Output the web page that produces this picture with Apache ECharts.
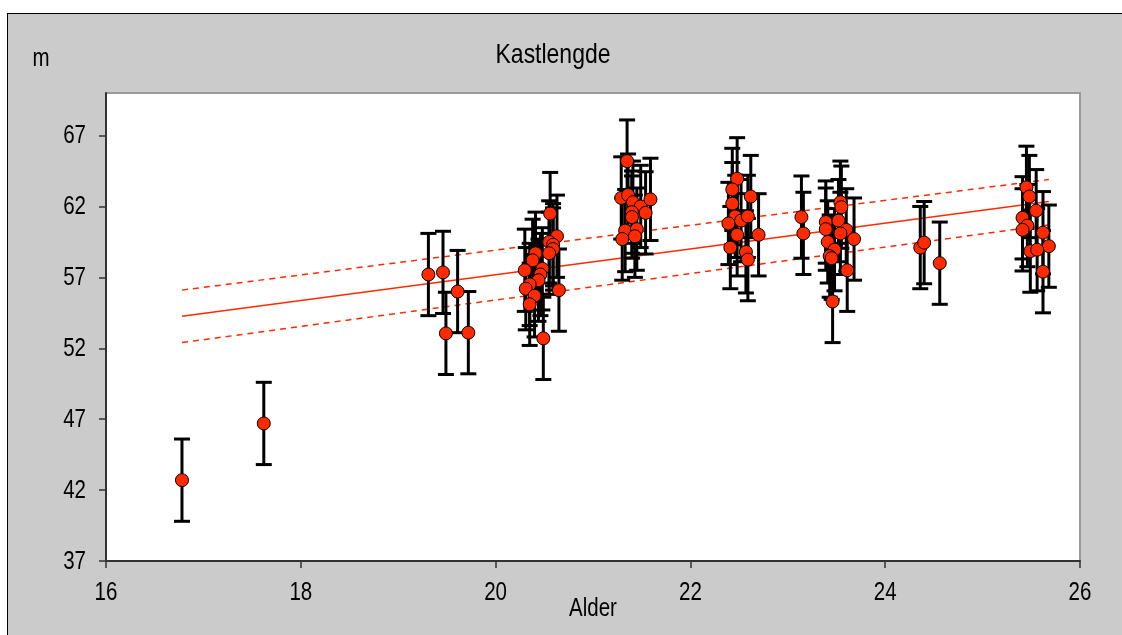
<!DOCTYPE html>
<html>
<head>
<meta charset="utf-8">
<script src="https://cdn.jsdelivr.net/npm/echarts@6/dist/echarts.min.js"></script>
<style>
  html, body { margin: 0; padding: 0; background: #ffffff; overflow: hidden; }
  #frame { position: absolute; left: 7px; top: 13px; width: 1200px; height: 700px; background: #cbcbcb; border: 1.5px solid #000; }
  #chart { position: absolute; left: 0; top: 0; width: 1122px; height: 635px; }
</style>
</head>
<body>
<div id="frame"></div>
<div id="chart"></div>
<script>
// ---- data ----
const titleText = 'Kastlengde';
const xAxisTitle = 'Alder';
const yAxisTitle = 'm';
const xTicks = [16, 18, 20, 22, 24, 26];
const yTicks = [37, 42, 47, 52, 57, 62, 67];

// age (years) of each measurement
const ages = [
  16.78, 17.62, 19.31, 19.46, 19.49, 19.61, 19.72,
  20.56, 20.63, 20.55, 20.59, 20.59, 20.55, 20.41, 20.38, 20.30, 20.48, 20.46, 20.44, 20.65, 20.35, 20.31, 20.40, 20.35, 20.49,
  21.35, 21.29, 21.36, 21.41, 21.49, 21.59, 21.40, 21.40, 21.54, 21.33, 21.45, 21.30, 21.43,
  22.48, 22.43, 22.62, 22.43, 22.46, 22.39, 22.52, 22.59, 22.48, 22.70, 22.41, 22.57, 22.59,
  23.14, 23.16,
  23.54, 23.55, 23.39, 23.52, 23.39, 23.60, 23.54, 23.68, 23.41, 23.48, 23.43, 23.45, 23.61, 23.46,
  24.36, 24.40, 24.56,
  25.45, 25.48, 25.55, 25.41, 25.46, 25.41, 25.62, 25.68, 25.49, 25.56, 25.62
];
// measured length (m)
const lengths = [
  42.7, 46.7, 57.2, 57.35, 53.05, 56.0, 53.1,
  61.5, 59.9, 59.5, 59.3, 59.0, 58.7, 58.7, 58.2, 57.5, 57.6, 57.2, 56.8, 56.1, 56.5, 56.2, 55.7, 55.1, 52.7,
  65.2, 62.6, 62.8, 62.3, 62.0, 62.5, 61.6, 61.25, 61.55, 60.3, 60.4, 59.7, 59.9,
  63.95, 63.2, 62.7, 62.2, 61.3, 60.8, 61.0, 61.3, 60.0, 60.0, 59.1, 58.8, 58.25,
  61.25, 60.1,
  62.3, 61.95, 60.9, 61.0, 60.4, 60.35, 60.1, 59.7, 59.5, 58.95, 58.5, 58.35, 57.5, 55.3,
  59.1, 59.45, 58.0,
  63.35, 62.7, 61.7, 61.2, 60.65, 60.35, 60.15, 59.2, 58.85, 58.95, 57.4
];
// half-width of the error bar (m)
const errorHalf = 2.9;

// regression line and its confidence band, [age, length] end points
const fitLine   = [[16.78, 54.25], [25.68, 62.35]];
const upperBand = [[16.78, 56.1],  [25.68, 63.9]];
const lowerBand = [[16.78, 52.4],  [25.68, 60.7]];

// ---- chart ----
const FONT = "'Liberation Sans', Arial, sans-serif";
const NARROW = 0.82;   // the reference uses a narrow face
const RED = '#ff2a00';

const points = ages.map((a, i) => [a, lengths[i]]);
const bars = ages.map((a, i) => [a, lengths[i] - errorHalf, lengths[i] + errorHalf]);

const chart = echarts.init(document.getElementById('chart'), null, { renderer: 'canvas' });

function txt(id, text, x, y, size, align) {
  return {
    type: 'text', id: id, x: x, y: y, scaleX: NARROW, scaleY: 1,
    style: { text: String(text), font: size + 'px ' + FONT, fill: '#000', textAlign: align || 'center', textVerticalAlign: 'middle' },
    z: 100
  };
}

chart.setOption({
  backgroundColor: 'transparent',
  animation: false,
  textStyle: { fontFamily: FONT },
  grid: {
    left: 106, top: 93, width: 974, height: 468,
    show: true, backgroundColor: '#ffffff', borderColor: '#9a9a9a', borderWidth: 2
  },
  xAxis: {
    type: 'value', min: 16, max: 26, interval: 2,
    axisLine: { show: true, onZero: false, lineStyle: { color: '#333', width: 2 } },
    axisTick: { show: true, length: 7, customValues: xTicks, lineStyle: { color: '#333', width: 1.5 } },
    axisLabel: { show: false },
    splitLine: { show: false }
  },
  yAxis: {
    type: 'value', min: 37, max: 70, interval: 5,
    axisLine: { show: true, onZero: false, lineStyle: { color: '#333', width: 2 } },
    axisTick: { show: true, length: 7, customValues: yTicks, lineStyle: { color: '#333', width: 1.5 } },
    axisLabel: { show: false },
    splitLine: { show: false }
  },
  series: [
    { type: 'line', data: upperBand, symbol: 'none', lineStyle: { color: RED, width: 1.5, type: [6, 5] }, z: 1 },
    { type: 'line', data: lowerBand, symbol: 'none', lineStyle: { color: RED, width: 1.5, type: [6, 5] }, z: 1 },
    { type: 'line', data: fitLine, symbol: 'none', lineStyle: { color: RED, width: 1.5 }, z: 1 },
    {
      type: 'custom', data: bars, z: 2,
      encode: { x: 0, y: [1, 2] },
      renderItem: function (params, api) {
        const x = api.value(0);
        const lo = api.coord([x, api.value(1)]);
        const hi = api.coord([x, api.value(2)]);
        const w = 8;
        const st = { stroke: '#000', lineWidth: 3 };
        return {
          type: 'group',
          children: [
            { type: 'line', shape: { x1: hi[0], y1: hi[1], x2: lo[0], y2: lo[1] }, style: st },
            { type: 'line', shape: { x1: hi[0] - w, y1: hi[1], x2: hi[0] + w, y2: hi[1] }, style: st },
            { type: 'line', shape: { x1: lo[0] - w, y1: lo[1], x2: lo[0] + w, y2: lo[1] }, style: st }
          ]
        };
      }
    },
    {
      type: 'scatter', data: points, z: 3,
      symbol: 'circle', symbolSize: 13,
      itemStyle: { color: RED, borderColor: '#000', borderWidth: 1, opacity: 1 }
    }
  ]
});

// tick labels and titles, placed through the chart's own scales
const g = [];
g.push(txt('title', titleText, 553, 55, 28));
g.push(txt('ytitle', yAxisTitle, 41, 59, 25));
g.push(txt('xtitle', xAxisTitle, 593, 609, 25));
xTicks.forEach(function (v, i) {
  const p = chart.convertToPixel({ gridIndex: 0 }, [v, 37]);
  g.push(txt('xl' + i, v, p[0], p[1] + 32, 25));
});
yTicks.forEach(function (v, i) {
  const p = chart.convertToPixel({ gridIndex: 0 }, [16, v]);
  g.push(txt('yl' + i, v, p[0] - 20, p[1] + 1, 25, 'right'));
});
chart.setOption({ graphic: g });
</script>
</body>
</html>
